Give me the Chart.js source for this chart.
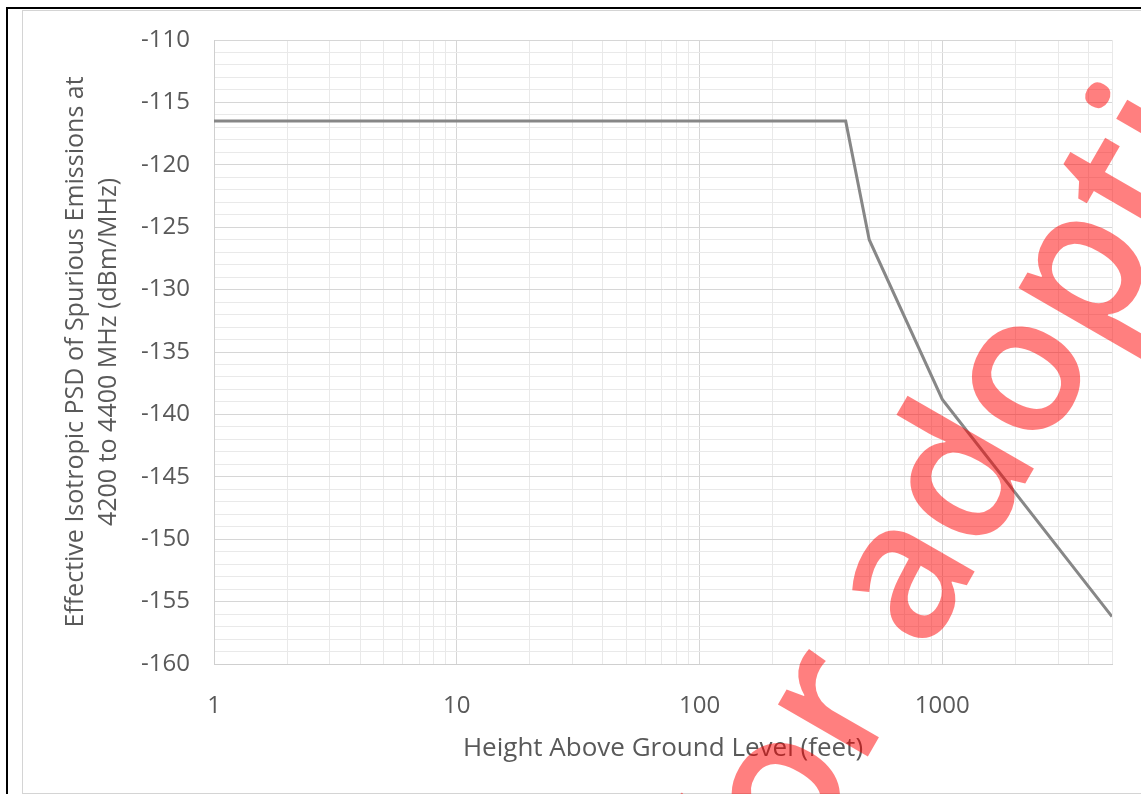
<!DOCTYPE html>
<html>
<head>
<meta charset="utf-8">
<script src="https://cdn.jsdelivr.net/npm/chart.js@4.4.1/dist/chart.umd.min.js"></script>
<style>
  html, body { margin: 0; padding: 0; background: #fff; }
  #wrap { position: relative; width: 1141px; height: 794px; }
</style>
</head>
<body>
<div id="wrap"><canvas id="psdChart" width="1141" height="794"></canvas></div>
<script>
// curve: height above ground (ft) vs PSD (dBm/MHz)
const heightFt = [1, 400, 500, 1000, 5000];
const psdDbm = [-116.5, -116.5, -126, -138.8, -156.2];

// axes
const xMin = 1, xMax = 5000;
const xLabelTicks = [1, 10, 100, 1000];
const xMinorSteps = [2, 3, 4, 5, 6, 7, 8, 9];
const yMin = -160, yMax = -110;
const yLabelStep = 5;

const xTitle = 'Height Above Ground Level (feet)';
const yTitle = ['Effective Isotropic PSD of Spurious Emissions at', '4200 to 4400 MHz (dBm/MHz)'];
const watermarkText = 'Draft for adoption';

// every decade + its minor lines, used for the log grid
const xGridTicks = [];
xLabelTicks.forEach(d => {
    xGridTicks.push(d);
    xMinorSteps.forEach(m => { if (d * m <= xMax) xGridTicks.push(d * m); });
});

const labelColor = '#595959';
const majorGrid = '#d6d6d6';
const minorGrid = '#e9e9e9';

const frame = {
    id: 'frame',
    beforeDraw(chart) {
        const ctx = chart.ctx;
        ctx.save();
        ctx.fillStyle = '#fff';
        ctx.fillRect(0, 0, chart.width, chart.height);
        ctx.strokeStyle = '#d4d4d4';
        ctx.lineWidth = 1;
        ctx.strokeRect(22.5, 10.5, chart.width, chart.height - 11);
        ctx.strokeStyle = '#000';
        ctx.lineWidth = 2;
        ctx.beginPath();
        ctx.moveTo(7, chart.height);
        ctx.lineTo(7, 8);
        ctx.lineTo(chart.width, 8);
        ctx.stroke();
        ctx.restore();
    }
};

const watermark = {
    id: 'watermark',
    afterDraw(chart) {
        const ctx = chart.ctx;
        ctx.save();
        ctx.translate(860, 770);
        ctx.rotate(-60 * Math.PI / 180);
        ctx.font = '600 192px "Open Sans"';
        ctx.fillStyle = 'rgba(255, 0, 0, 0.5)';
        ctx.textBaseline = 'alphabetic';
        const lead = ctx.measureText('Draft fo').width;
        ctx.fillText(watermarkText, -lead, 0);
        ctx.restore();
    }
};

const ctx = document.getElementById('psdChart').getContext('2d');
new Chart(ctx, {
    type: 'scatter',
    data: {
        datasets: [{
            data: heightFt.map((h, i) => ({ x: h, y: psdDbm[i] })),
            showLine: true,
            borderColor: '#878787',
            borderWidth: 3,
            pointRadius: 0,
            tension: 0
        }]
    },
    options: {
        responsive: false,
        animation: false,
        layout: { padding: { left: 22, right: 29, top: 40, bottom: 0 } },
        plugins: {
            legend: { display: false },
            tooltip: { enabled: false }
        },
        scales: {
            x: {
                type: 'logarithmic',
                min: xMin,
                max: xMax,
                afterBuildTicks: (scale) => {
                    scale.ticks = xGridTicks.map(v => ({ value: v }));
                },
                afterFit: (scale) => { scale.height = 130; },
                ticks: {
                    autoSkip: false,
                    maxRotation: 0,
                    padding: 28,
                    color: labelColor,
                    font: { family: '"Open Sans"', size: 24 },
                    callback: (v) => xLabelTicks.includes(v) ? String(v) : ''
                },
                grid: {
                    drawTicks: false,
                    color: (c) => c.tick && xLabelTicks.includes(c.tick.value) ? majorGrid : minorGrid
                },
                border: { color: '#cfcfcf' },
                title: {
                    display: true,
                    text: xTitle,
                    color: labelColor,
                    font: { family: '"Open Sans"', size: 26, lineHeight: 1.3 },
                    padding: { top: 0, bottom: 29 }
                }
            },
            y: {
                min: yMin,
                max: yMax,
                afterFit: (scale) => { scale.width = 192; },
                ticks: {
                    stepSize: 1,
                    autoSkip: false,
                    padding: 24,
                    color: labelColor,
                    font: { family: '"Open Sans"', size: 24 },
                    callback: (v) => v % yLabelStep === 0 ? String(v) : ''
                },
                grid: {
                    drawTicks: false,
                    color: (c) => c.tick && c.tick.value % yLabelStep === 0 ? majorGrid : minorGrid
                },
                border: { color: '#cfcfcf' },
                title: {
                    display: true,
                    text: yTitle,
                    color: labelColor,
                    font: { family: '"Open Sans"', size: 25, lineHeight: 1.32 },
                    padding: { top: 37, bottom: 0 }
                }
            }
        }
    },
    plugins: [frame, watermark]
});
</script>
</body>
</html>
